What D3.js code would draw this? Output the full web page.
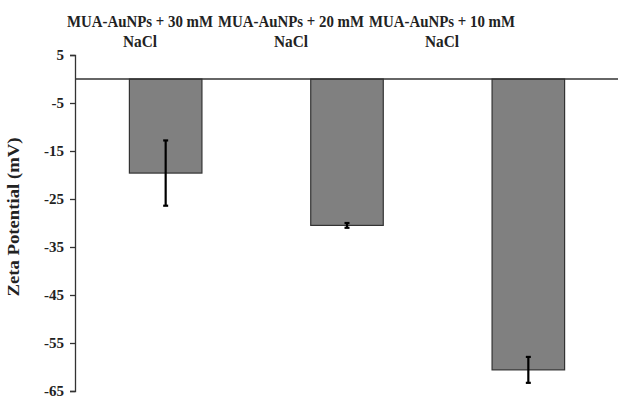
<!DOCTYPE html>
<html>
<head>
<meta charset="utf-8">
<script src="https://cdn.jsdelivr.net/npm/d3@7"></script>
<style>
  html, body { margin: 0; padding: 0; background: #fff; }
  svg { display: block; }
  .axis text { font-family: "Liberation Serif", "Times New Roman", serif; font-weight: bold; font-size: 15px; fill: #222; }
  .axis path, .axis line { stroke: #333; stroke-width: 1.3; }
  .cat { font-family: "Liberation Serif", "Times New Roman", serif; font-weight: bold; font-size: 17px; fill: #222; }
</style>
</head>
<body>
<div id="chart"></div>
<script>
// 資料
const categories = ['MUA-AuNPs + 30 mM NaCl', 'MUA-AuNPs + 20 mM NaCl', 'MUA-AuNPs + 10 mM NaCl'];
const zeta = [-19.6, -30.5, -60.6];
const errors = [6.8, 0.5, 2.7];
const yTicks = [5, -5, -15, -25, -35, -45, -55, -65];

const W = 621, H = 398;
const margin = {top: 55, right: 2, bottom: 7, left: 75};

const svg = d3.select('#chart').append('svg')
  .attr('width', W)
  .attr('height', H);

const data = categories.map((c, i) => ({cat: c, v: zeta[i], e: errors[i]}));

// X 軸（類別）
const x = d3.scaleBand()
  .domain(categories)
  .range([margin.left, W - margin.right])
  .paddingInner(0.6)
  .paddingOuter(0.3);

// 上方標籤位置（原圖標籤較集中於左側）
const xLabel = d3.scalePoint()
  .domain(categories)
  .range([140, 442]);

// Y 軸
const y = d3.scaleLinear()
  .domain([-65, 5])
  .range([H - margin.bottom, margin.top]);

// 長條
svg.append('g')
  .selectAll('rect')
  .data(data)
  .enter()
  .append('rect')
  .attr('x', d => x(d.cat))
  .attr('y', d => y(0))
  .attr('width', x.bandwidth())
  .attr('height', d => y(d.v) - y(0))
  .attr('fill', '#808080')
  .attr('stroke', '#333')
  .attr('stroke-width', 1.2);

// 誤差線
const eb = svg.append('g')
  .selectAll('g')
  .data(data)
  .enter()
  .append('g')
  .attr('stroke', '#000')
  .attr('stroke-width', 2.2);

eb.append('line')
  .attr('x1', d => x(d.cat) + x.bandwidth() / 2)
  .attr('x2', d => x(d.cat) + x.bandwidth() / 2)
  .attr('y1', d => y(d.v + d.e))
  .attr('y2', d => y(d.v - d.e));

eb.append('line')
  .attr('x1', d => x(d.cat) + x.bandwidth() / 2 - 2.5)
  .attr('x2', d => x(d.cat) + x.bandwidth() / 2 + 2.5)
  .attr('y1', d => y(d.v + d.e))
  .attr('y2', d => y(d.v + d.e));

eb.append('line')
  .attr('x1', d => x(d.cat) + x.bandwidth() / 2 - 2.5)
  .attr('x2', d => x(d.cat) + x.bandwidth() / 2 + 2.5)
  .attr('y1', d => y(d.v - d.e))
  .attr('y2', d => y(d.v - d.e));

// 零線
svg.append('line')
  .attr('x1', margin.left)
  .attr('x2', W - 3)
  .attr('y1', y(0))
  .attr('y2', y(0))
  .attr('stroke', '#333')
  .attr('stroke-width', 1.6);

// Y 軸
svg.append('g')
  .attr('class', 'axis')
  .attr('transform', `translate(${margin.left},0)`)
  .call(d3.axisLeft(y).tickValues(yTicks).tickSizeOuter(0).tickSize(5).tickPadding(6).tickFormat(d => String(d)));

// Y 軸標題
svg.append('text')
  .attr('class', 'cat')
  .attr('transform', `translate(19,${(margin.top + H - margin.bottom) / 2 - 6}) rotate(-90)`)
  .attr('text-anchor', 'middle')
  .attr('textLength', 159)
  .attr('lengthAdjust', 'spacingAndGlyphs')
  .text('Zeta Potential (mV)');

// 上方類別標籤（兩行）
const labels = svg.append('g')
  .selectAll('g')
  .data(categories)
  .enter()
  .append('g');

labels.append('text')
  .attr('class', 'cat')
  .attr('text-anchor', 'middle')
  .attr('x', d => xLabel(d))
  .attr('y', 27)
  .attr('textLength', 146)
  .attr('lengthAdjust', 'spacingAndGlyphs')
  .text(d => d.replace(' NaCl', ''));

labels.append('text')
  .attr('class', 'cat')
  .attr('text-anchor', 'middle')
  .attr('x', d => xLabel(d))
  .attr('y', 47)
  .attr('textLength', 34)
  .attr('lengthAdjust', 'spacingAndGlyphs')
  .text('NaCl');
</script>
</body>
</html>
